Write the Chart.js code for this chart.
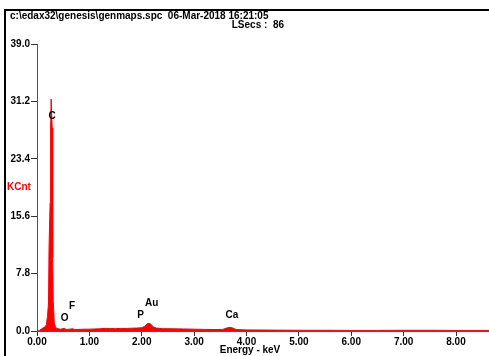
<!DOCTYPE html>
<html>
<head>
<meta charset="utf-8">
<script src="https://cdn.jsdelivr.net/npm/chart.js@4.4.1/dist/chart.umd.min.js"></script>
<style>
html,body{margin:0;padding:0;background:#fff;}
#wrap{position:relative;width:489px;height:356px;}
</style>
</head>
<body>
<div id="wrap"><canvas id="c" width="489" height="356"></canvas></div>
<script>
// Spectrum (keV, KCnt)
const energy = [0.00,0.04,0.08,0.12,0.16,0.18,0.20,0.22,0.23,0.25,0.26,0.27,0.28,0.29,0.30,0.31,0.33,0.36,0.40,0.45,0.52,0.56,0.62,0.68,0.72,0.80,0.90,1.00,1.10,1.20,1.30,1.40,1.50,1.60,1.70,1.80,1.90,2.00,2.05,2.10,2.14,2.18,2.22,2.28,2.40,2.60,2.80,3.00,3.20,3.40,3.55,3.62,3.68,3.74,3.80,4.00,4.50,5.00,5.50,6.00,6.50,7.00,7.50,8.00,8.63];
const kcnt   = [0.00,0.05,0.25,0.45,0.60,0.90,2.00,3.80,11.3,17.4,27.6,31.5,31.5,27.6,10.0,4.00,1.00,0.45,0.30,0.25,0.35,0.22,0.25,0.30,0.22,0.22,0.25,0.25,0.28,0.30,0.35,0.35,0.32,0.35,0.35,0.38,0.40,0.45,0.60,0.95,1.05,0.90,0.55,0.40,0.32,0.30,0.28,0.25,0.22,0.20,0.22,0.40,0.50,0.40,0.20,0.15,0.12,0.10,0.10,0.08,0.08,0.10,0.10,0.08,0.08];
const yTicks = [0.0,7.8,15.6,23.4,31.2,39.0];
const xTicks = [0,1,2,3,4,5,6,7,8];
const peakLabels = ["C","O","F","P","Au","Ca"];
const peakLabelE = [0.29,0.53,0.67,1.98,2.19,3.72];
const peakLabelY = [29.2,1.8,3.4,2.2,3.8,2.2];

const FONT = '"Liberation Sans", Arial, sans-serif';

const decor = {
  id:'decor',
  afterDraw(chart){
    const ctx = chart.ctx;
    const xs = chart.scales.x, ys = chart.scales.y;
    ctx.save();
    // frame
    ctx.fillStyle = '#000';
    ctx.fillRect(4,9,485,2);
    ctx.fillRect(4,9,2,347);
    // header text
    ctx.font = 'bold 10px ' + FONT;
    ctx.textBaseline = 'middle';
    ctx.textAlign = 'left';
    ctx.fillText('c:\\edax32\\genesis\\genmaps.spc  06-Mar-2018 16:21:05', 10, 16);
    ctx.textAlign = 'right';
    ctx.fillText('LSecs :  86', 284, 25);
    // y title
    ctx.fillStyle = '#ff0000';
    ctx.textAlign = 'left';
    ctx.fillText('KCnt', 7, 187);
    // x title
    ctx.fillStyle = '#000';
    ctx.textAlign = 'center';
    ctx.fillText('Energy - keV', 250, 350);
    // peak labels
    for (let i=0;i<peakLabels.length;i++){
      ctx.fillText(peakLabels[i], xs.getPixelForValue(peakLabelE[i]), ys.getPixelForValue(peakLabelY[i]));
    }
    ctx.restore();
  }
};

new Chart(document.getElementById('c'), {
  type:'line',
  data:{
    datasets:[{
      data: energy.map((e,i)=>({x:e,y:kcnt[i]})),
      borderColor:'#ff0000',
      backgroundColor:'#ff0000',
      borderWidth:1,
      fill:'origin',
      pointRadius:0,
      tension:0
    }]
  },
  options:{
    responsive:false,
    animation:false,
    devicePixelRatio:1,
    layout:{padding:{top:44,left:0,right:0,bottom:0}},
    plugins:{legend:{display:false},tooltip:{enabled:false}},
    scales:{
      x:{
        type:'linear', min:0, max:8.63,
        afterBuildTicks(s){ s.ticks = xTicks.map(v=>({value:v})); },
        afterFit(s){ s.height = 25; },
        grid:{display:true, drawOnChartArea:false, tickLength:5, color:'#333'},
        border:{display:true,color:'#555',width:1},
        ticks:{color:'#000', padding:0, maxRotation:0, autoSkip:false,
          font:{family:FONT, size:10, weight:'bold'},
          callback:v=>Number(v).toFixed(2)}
      },
      y:{
        type:'linear', min:0, max:39,
        afterBuildTicks(s){ s.ticks = yTicks.map(v=>({value:v})); },
        afterFit(s){ s.width = 37; },
        grid:{display:true, drawOnChartArea:false, tickLength:6, color:'#333'},
        border:{display:true,color:'#555',width:1},
        ticks:{color:'#000', padding:1, autoSkip:false,
          font:{family:FONT, size:10, weight:'bold'},
          callback:v=>Number(v).toFixed(1)}
      }
    }
  },
  plugins:[decor]
});
</script>
</body>
</html>
